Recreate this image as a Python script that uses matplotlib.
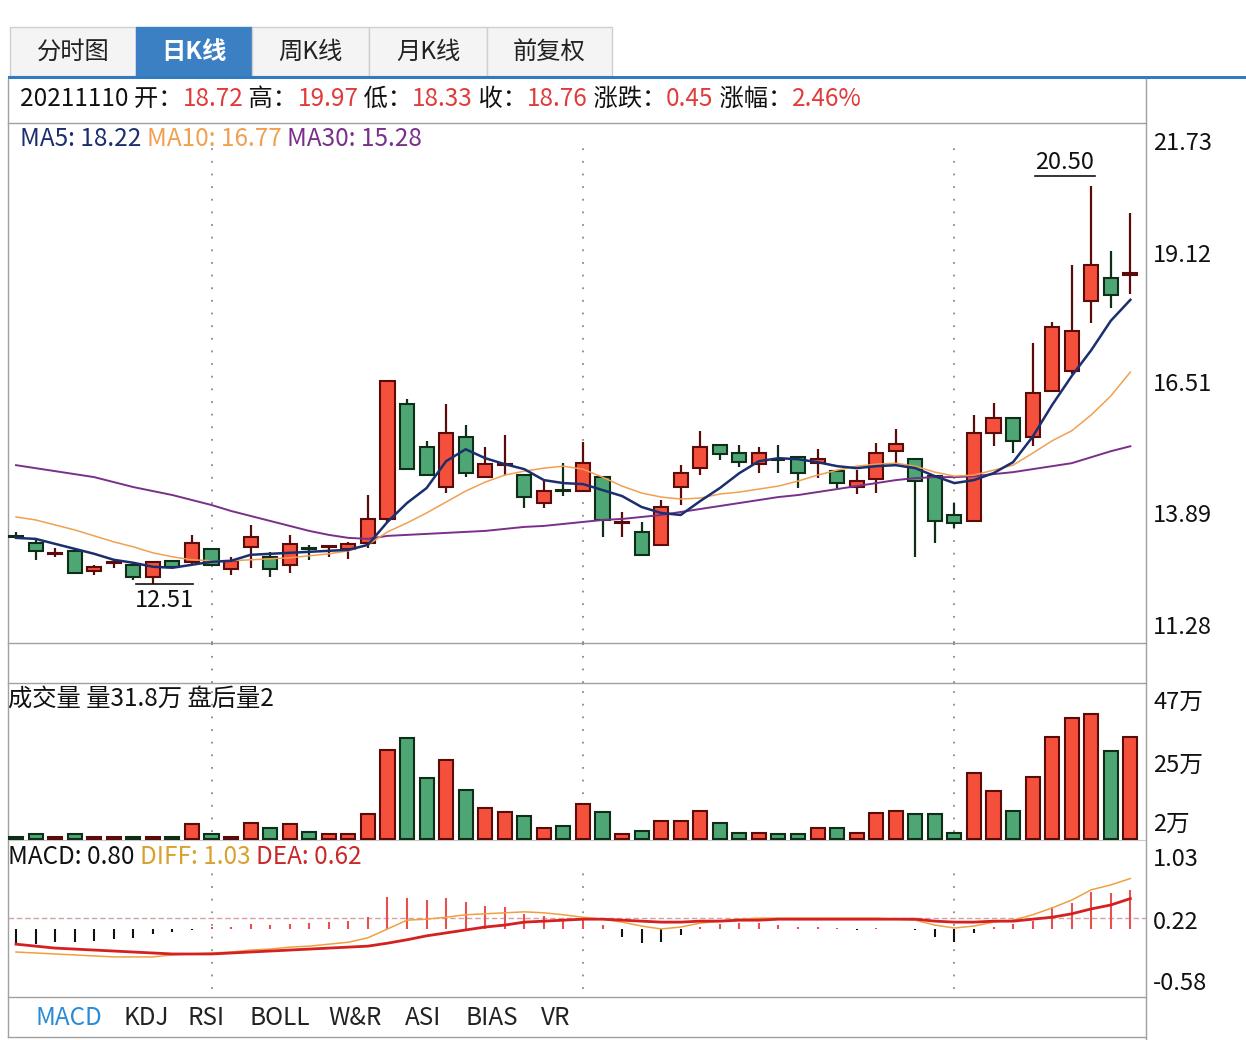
import numpy as np
import matplotlib
matplotlib.use('Agg')
import matplotlib.pyplot as plt
from matplotlib.patches import Rectangle

FONT = ['Noto Sans CJK SC', 'DejaVu Sans']
plt.rcParams['font.family'] = FONT

# ---------------- data ----------------
opens = [13.47, 13.34, 13.12, 13.18, 12.78, 12.93, 12.90, 12.65, 12.98, 12.95,
         13.22, 12.82, 13.26, 13.06, 12.90, 13.23, 13.25, 13.22, 13.34, 13.82,
         16.13, 15.26, 14.46, 15.47, 14.66, 14.90, 14.70, 14.14, 14.40, 14.38,
         14.66, 13.74, 13.56, 13.30, 14.46, 14.84, 15.30, 15.14, 14.92, 15.01,
         15.06, 14.94, 14.78, 14.46, 14.62, 15.18, 15.02, 14.68, 13.90, 13.78,
         15.55, 15.85, 15.47, 16.39, 16.79, 18.20, 18.65, 18.72]
highs = [13.55, 13.44, 13.24, 13.18, 12.90, 13.02, 12.95, 12.95, 12.98, 13.50,
         13.22, 13.06, 13.70, 13.16, 13.50, 13.30, 13.30, 13.36, 14.30, 16.59,
         16.23, 15.39, 16.13, 15.71, 15.26, 15.51, 14.70, 14.58, 14.94, 15.37,
         14.66, 13.96, 13.76, 14.20, 14.90, 15.59, 15.30, 15.30, 15.26, 15.30,
         15.06, 15.22, 14.78, 14.80, 15.34, 15.63, 15.02, 14.68, 14.14, 15.91,
         16.15, 15.87, 17.35, 17.77, 18.92, 20.50, 19.20, 19.97]
lows = [13.42, 12.99, 13.06, 12.73, 12.69, 12.84, 12.59, 12.51, 12.86, 12.90,
        12.90, 12.69, 12.84, 12.65, 12.73, 13.00, 13.06, 13.02, 13.24, 13.76,
        14.82, 14.70, 14.34, 14.66, 14.66, 14.70, 14.04, 14.04, 14.28, 14.36,
        13.46, 13.46, 13.10, 13.30, 14.10, 14.70, 15.00, 14.86, 14.74, 14.74,
        14.44, 14.64, 14.44, 14.32, 14.34, 14.94, 13.06, 13.34, 13.64, 13.78,
        15.29, 15.14, 15.29, 16.39, 16.73, 17.75, 18.06, 18.33]
closes = [13.45, 13.18, 13.14, 12.73, 12.86, 12.95, 12.65, 12.95, 12.86, 13.34,
          12.90, 12.98, 13.46, 12.82, 13.32, 13.21, 13.27, 13.32, 13.82, 16.59,
          14.82, 14.70, 15.55, 14.74, 14.92, 14.92, 14.26, 14.38, 14.38, 14.94,
          13.80, 13.76, 13.10, 14.06, 14.74, 15.26, 15.12, 14.96, 15.14, 15.00,
          14.74, 15.02, 14.54, 14.58, 15.14, 15.32, 14.58, 13.78, 13.74, 15.55,
          15.85, 15.39, 16.35, 17.67, 17.59, 18.92, 18.31, 18.76]
ma5 = [13.44, 13.42, 13.32, 13.22, 13.12, 13.00, 12.94, 12.86, 12.84, 12.90,
       12.96, 12.98, 13.10, 13.12, 13.14, 13.16, 13.18, 13.20, 13.30, 13.76,
       14.14, 14.44, 14.98, 15.22, 15.04, 14.92, 14.82, 14.60, 14.54, 14.52,
       14.40, 14.28, 14.06, 13.94, 13.90, 14.18, 14.44, 14.74, 14.98, 15.04,
       15.02, 14.96, 14.88, 14.84, 14.88, 14.90, 14.84, 14.68, 14.54, 14.60,
       14.74, 14.96, 15.47, 16.11, 16.69, 17.21, 17.80, 18.22]
ma10 = [13.86, 13.80, 13.70, 13.60, 13.48, 13.36, 13.26, 13.14, 13.06, 13.00,
        12.98, 12.98, 13.00, 13.02, 13.04, 13.08, 13.12, 13.18, 13.30, 13.56,
        13.74, 13.94, 14.16, 14.38, 14.56, 14.70, 14.78, 14.84, 14.88, 14.82,
        14.66, 14.48, 14.34, 14.26, 14.22, 14.24, 14.32, 14.36, 14.42, 14.48,
        14.58, 14.70, 14.80, 14.88, 14.92, 14.94, 14.88, 14.76, 14.68, 14.70,
        14.80, 14.90, 15.14, 15.39, 15.59, 15.91, 16.29, 16.77]
ma30 = [14.90, 14.84, 14.78, 14.72, 14.66, 14.56, 14.46, 14.38, 14.30, 14.20,
        14.10, 13.98, 13.88, 13.78, 13.68, 13.58, 13.50, 13.44, 13.42, 13.48,
        13.50, 13.52, 13.54, 13.56, 13.58, 13.62, 13.66, 13.68, 13.72, 13.76,
        13.80, 13.82, 13.86, 13.90, 13.96, 14.02, 14.08, 14.14, 14.20, 14.26,
        14.30, 14.36, 14.42, 14.48, 14.54, 14.60, 14.64, 14.66, 14.66, 14.68,
        14.72, 14.76, 14.82, 14.88, 14.94, 15.06, 15.18, 15.28]
volume = [0.6, 1.6, 0.6, 1.6, 0.6, 0.6, 0.6, 0.6, 0.6, 4.7,
          1.6, 0.6, 5.0, 3.4, 4.7, 2.2, 1.6, 1.6, 7.8, 27.8,
          31.6, 19.1, 24.7, 15.3, 9.7, 8.4, 7.2, 3.4, 4.1, 10.9,
          8.4, 1.6, 2.5, 5.6, 5.6, 8.8, 5.0, 1.9, 1.9, 1.6,
          1.6, 3.4, 3.4, 1.9, 8.1, 8.8, 7.8, 7.8, 1.9, 20.6,
          15.0, 8.8, 19.4, 31.9, 37.8, 39.1, 27.5, 31.8]
diff = [-0.47, -0.49, -0.51, -0.53, -0.55, -0.57, -0.57, -0.57, -0.53, -0.51,
        -0.49, -0.47, -0.43, -0.41, -0.37, -0.35, -0.31, -0.27, -0.18, 0.00,
        0.18, 0.20, 0.24, 0.29, 0.31, 0.33, 0.35, 0.33, 0.29, 0.24,
        0.20, 0.14, 0.06, 0.00, 0.04, 0.12, 0.16, 0.20, 0.22, 0.22,
        0.22, 0.22, 0.22, 0.22, 0.22, 0.20, 0.18, 0.08, 0.02, 0.06,
        0.14, 0.18, 0.29, 0.43, 0.59, 0.80, 0.90, 1.03]
dea = [-0.31, -0.35, -0.39, -0.41, -0.43, -0.45, -0.47, -0.49, -0.51, -0.51,
       -0.51, -0.49, -0.47, -0.45, -0.43, -0.41, -0.39, -0.37, -0.35, -0.29,
       -0.22, -0.14, -0.08, -0.02, 0.04, 0.08, 0.14, 0.16, 0.18, 0.20,
       0.20, 0.18, 0.16, 0.14, 0.14, 0.16, 0.16, 0.18, 0.18, 0.20,
       0.20, 0.20, 0.20, 0.20, 0.20, 0.20, 0.20, 0.16, 0.14, 0.14,
       0.16, 0.16, 0.20, 0.24, 0.31, 0.41, 0.49, 0.62]
macd_hist = [-0.31, -0.31, -0.27, -0.27, -0.25, -0.20, -0.18, -0.10, -0.06, -0.02,
             0.04, 0.05, 0.10, 0.08, 0.10, 0.12, 0.14, 0.16, 0.24, 0.65,
             0.63, 0.60, 0.63, 0.55, 0.47, 0.45, 0.30, 0.27, 0.18, 0.20,
             0.08, -0.16, -0.29, -0.27, -0.12, 0.04, 0.10, 0.12, 0.12, 0.08,
             0.05, 0.04, 0.02, -0.02, 0.01, -0.01, -0.02, -0.17, -0.27, -0.08,
             0.05, 0.10, 0.16, 0.45, 0.53, 0.75, 0.74, 0.80]
month_start_idx = [10, 29, 48]
price_ticks = [21.73, 19.12, 16.51, 13.89, 11.28]
vol_ticks = [47, 25, 2]
vol_tick_labels = ['47万', '25万', '2万']
macd_mid_tick = 0.22
macd_top_label, macd_bottom_label = '1.03', '-0.58'

tab_labels = ['分时图', '日K线', '周K线', '月K线', '前复权']
indicator_labels = ['MACD', 'KDJ', 'RSI', 'BOLL', 'W&R', 'ASI', 'BIAS', 'VR']

# ---------------- styling ----------------
RED_F, RED_E = '#F4503C', '#5C0B0B'
GRN_F, GRN_E = '#4DA673', '#0E2E17'
C_MA5, C_MA10, C_MA30 = '#1B2F6E', '#F0A050', '#7A2F8A'
C_DIFF, C_DEA = '#F0A040', '#D42020'
VAL_RED = '#E03C3C'
GRID = '#A0A0A0'
FS = 17.5
FS_AX = 17

W, H = 1246, 1040
fig = plt.figure(figsize=(W / 100, H / 100), dpi=100)
fig.patch.set_facecolor('white')

overlay = fig.add_axes([0, 0, 1, 1], zorder=0)
overlay.set_xlim(0, W)
overlay.set_ylim(H, 0)
overlay.axis('off')


def px_axes(x0, y0, x1, y1, z=2):
    a = fig.add_axes([x0 / W, 1 - y1 / H, (x1 - x0) / W, (y1 - y0) / H], zorder=z)
    a.set_facecolor('none')
    a.axis('off')
    return a


XL, XR = -0.41, 57.8
n = len(closes)
xs = np.arange(n)
is_up = [c > o for o, c in zip(opens, closes)]

# ---------------- tabs ----------------
tab_edges = [10, 136, 252, 369, 487, 612]
for k, lab in enumerate(tab_labels):
    x0, x1 = tab_edges[k], tab_edges[k + 1]
    sel = (k == 1)
    overlay.add_patch(Rectangle((x0, 27), x1 - x0, 49,
                                facecolor='#3A80C3' if sel else '#F4F4F4',
                                edgecolor='#3A80C3' if sel else '#CFCFCF', lw=1))
    overlay.text((x0 + x1) / 2, 52, lab, ha='center', va='center', fontsize=FS,
                 color='white' if sel else '#222222',
                 fontweight='bold' if sel else 'normal')
overlay.add_patch(Rectangle((8, 75.5), W - 8, 3.5, facecolor='#2F7BC4', edgecolor='none'))

renderer = fig.canvas.get_renderer()


def chain(x, y, parts, size):
    for s, col in parts:
        t = overlay.text(x, y, s, color=col, fontsize=size, ha='left', va='center')
        bb = t.get_window_extent(renderer=renderer)
        x += bb.width


chain(20, 99, [('20211110 开：', '#111111'), ('18.72', VAL_RED),
               (' 高：', '#111111'), ('19.97', VAL_RED),
               (' 低：', '#111111'), ('18.33', VAL_RED),
               (' 收：', '#111111'), ('18.76', VAL_RED),
               (' 涨跌：', '#111111'), ('0.45', VAL_RED),
               (' 涨幅：', '#111111'), ('2.46%', VAL_RED)], FS)
chain(20, 139, [('MA5: 18.22 ', C_MA5), ('MA10: 16.77 ', C_MA10),
                ('MA30: 15.28', C_MA30)], FS)
chain(8, 699, [('成交量 量31.8万 盘后量2', '#111111')], FS)
chain(8, 857, [('MACD: 0.80 ', '#111111'), ('DIFF: 1.03 ', '#D9A030'),
               ('DEA: 0.62', '#C82828')], FS)

ind_x = [36, 123, 187, 249, 328, 405, 466, 541]
for lab, xx in zip(indicator_labels, ind_x):
    overlay.text(xx, 1018, lab, fontsize=FS, ha='left', va='center',
                 color='#2A8BD6' if lab == 'MACD' else '#222222')

# frame lines
for yy in [123, 643, 683, 997, 1037]:
    overlay.plot([8, 1146], [yy, yy], color=GRID, lw=1)
overlay.plot([8, 1146], [840, 840], color='#C8C8C8', lw=0.8)
overlay.plot([8, 8], [79, 1037], color=GRID, lw=1)
overlay.plot([1146, 1146], [79, 1040], color=GRID, lw=1)

# ---------------- price panel ----------------
ax = px_axes(8, 123, 1146, 643)
ax.set_xlim(XL, XR)
ax.set_ylim(11.329, 21.771)
for m in month_start_idx:
    ax.axvline(m, ymin=0, ymax=0.96, color='#8A8A8A', lw=1.3, ls=(0, (1, 6)), zorder=1)
bw = 0.72
for i in xs:
    o, h, l, c = opens[i], highs[i], lows[i], closes[i]
    fc, ec = (RED_F, RED_E) if is_up[i] else (GRN_F, GRN_E)
    ax.vlines(i, l, h, color=ec, lw=1.6, zorder=2)
    ax.add_patch(Rectangle((i - bw / 2, min(o, c)), bw, max(abs(c - o), 0.004),
                           facecolor=fc, edgecolor=ec, lw=1.5, zorder=3))
ax.plot(xs, ma30, color=C_MA30, lw=1.4, zorder=4)
ax.plot(xs, ma10, color=C_MA10, lw=1.1, zorder=4)
ax.plot(xs, ma5, color=C_MA5, lw=1.8, zorder=5)

hi = int(np.argmax(highs))
lo = int(np.argmin(lows))
ax.text(hi - 1.35, highs[hi] + 0.47, f'{highs[hi]:.2f}', ha='center', va='center', fontsize=FS_AX, color='#111111')
ax.plot([hi - 2.9, hi + 0.2], [highs[hi] + 0.21] * 2, color='#111111', lw=1.2)
ax.plot([lo - 0.86, lo + 2.05], [lows[lo]] * 2, color='#111111', lw=1.2)
ax.text(lo + 0.6, lows[lo] - 0.32, f'{lows[lo]:.2f}', ha='center', va='center', fontsize=FS_AX, color='#111111')

ytr = ax.get_yaxis_transform()
price_offsets = [-18, 0, 0, 0, 18]
for v, dy in zip(price_ticks, price_offsets):
    ax.annotate(f'{v:.2f}', xy=(1, v), xycoords=ytr, xytext=(7, dy), textcoords='offset pixels',
                ha='left', va='center', fontsize=FS_AX, color='#111111', annotation_clip=False)

# blank band
band = px_axes(8, 643, 1146, 683)
band.set_xlim(XL, XR)
for m in month_start_idx:
    band.axvline(m, color='#8A8A8A', lw=1.3, ls=(0, (1, 6)))

# ---------------- volume panel ----------------
axv = px_axes(8, 683, 1146, 840)
axv.set_xlim(XL, XR)
axv.set_ylim(-0.3125, 48.75)
for m in month_start_idx:
    axv.axvline(m, ymin=0.05, ymax=0.95, color='#8A8A8A', lw=1.3, ls=(0, (1, 6)), zorder=1)
axv.bar(xs, volume, width=bw,
        color=[RED_F if u else GRN_F for u in is_up],
        edgecolor=[RED_E if u else GRN_E for u in is_up], lw=1.5, zorder=3)
vtr = axv.get_yaxis_transform()
for v, lab, dy in zip(vol_ticks, vol_tick_labels, [-14, -6, 8]):
    axv.annotate(lab, xy=(1, v), xycoords=vtr, xytext=(7, dy), textcoords='offset pixels',
                 ha='left', va='center', fontsize=FS_AX, color='#111111', annotation_clip=False)

# ---------------- MACD panel ----------------
axm = px_axes(8, 840, 1146, 997)
axm.set_xlim(XL, XR)
axm.set_ylim(-1.388, 1.816)
for m in month_start_idx:
    axm.axvline(m, ymin=0.05, ymax=0.85, color='#8A8A8A', lw=1.3, ls=(0, (1, 6)), zorder=1)
axm.axhline(macd_mid_tick, color='#D8A0A0', lw=1, ls=(0, (4, 2)), zorder=1)
hist = np.array(macd_hist)
axm.vlines(xs, 0, hist, colors=['#E85050' if v > 0 else '#111111' for v in hist], lw=1.5, zorder=2)
axm.plot(xs, diff, color=C_DIFF, lw=1.1, zorder=3)
axm.plot(xs, dea, color=C_DEA, lw=2.0, zorder=4)
mtr = axm.get_yaxis_transform()
axm.annotate(f'{macd_mid_tick:.2f}', xy=(1, macd_mid_tick), xycoords=mtr, xytext=(7, -4),
             textcoords='offset pixels', ha='left', va='center', fontsize=FS_AX, color='#111111',
             annotation_clip=False)
axm.annotate(macd_top_label, xy=(1, 0.873), xycoords='axes fraction', xytext=(7, 0),
             textcoords='offset pixels', ha='left', va='center', fontsize=FS_AX, color='#111111',
             annotation_clip=False)
axm.annotate(macd_bottom_label, xy=(1, 0.089), xycoords='axes fraction', xytext=(7, 0),
             textcoords='offset pixels', ha='left', va='center', fontsize=FS_AX, color='#111111',
             annotation_clip=False)

fig.savefig('out.png', dpi=100)
